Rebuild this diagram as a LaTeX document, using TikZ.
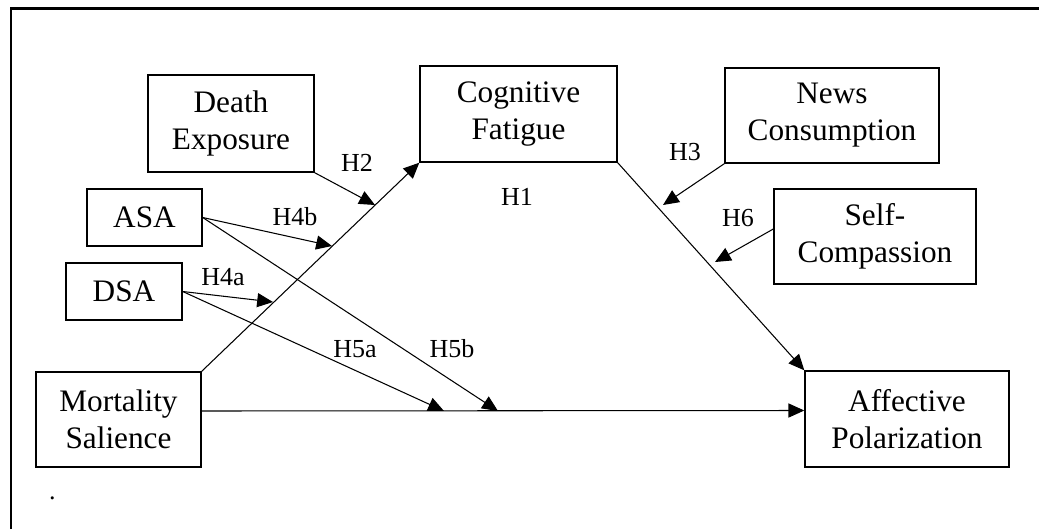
\documentclass[tikz,border=0pt]{standalone}
\usepackage{fontspec}
\setmainfont{Liberation Serif}
\usetikzlibrary{arrows.meta}
\usetikzlibrary{positioning}

\begin{document}
\begin{tikzpicture}[
    box/.style={rectangle, draw, line width=0.8pt, align=center, inner sep=0pt,
      font=\fontsize{17.8}{21}\selectfont},
    hyp/.style={inner sep=0pt, font=\fontsize{14.8}{17}\selectfont},
    link/.style={-{Triangle[length=9pt, width=8pt]}, line width=0.6pt},
    line/.style={line width=0.6pt},
  ]

  % Frame
  \useasboundingbox (0,0) rectangle (20.78,10.58);
  \draw[line width=1.7pt] (0.22,0) |- (20.78,10.41);

  % Nodes
  \node[box, minimum width=3.32cm, minimum height=1.94cm]
       (de)  at (4.62, 8.11)  {Death\\Exposure};
  \node[box, minimum width=3.94cm, minimum height=1.92cm]
       (cf)  at (10.37, 8.30) {Cognitive\\Fatigue};
  \node[box, minimum width=4.28cm, minimum height=1.90cm]
       (nc)  at (16.64, 8.27) {News\\Consumption};
  \node[box, minimum width=4.04cm, minimum height=1.90cm]
       (sc)  at (17.50, 5.85) {Self-\\Compassion};
  \node[box, minimum width=2.30cm, minimum height=1.14cm]
       (asa) at (2.89, 6.23)  {ASA};
  \node[box, minimum width=2.32cm, minimum height=1.14cm]
       (dsa) at (2.48, 4.75)  {DSA};
  \node[box, minimum width=3.30cm, minimum height=1.90cm]
       (ms)  at (2.37, 2.19)  {Mortality\\Salience};
  \node[box, minimum width=4.08cm, minimum height=1.92cm]
       (ap)  at (18.14, 2.20) {Affective\\Polarization};

  % Arrow ends on the paths
  \coordinate (deEnd)   at (7.50, 6.48);
  \coordinate (asaTop)  at (6.64, 5.66);
  \coordinate (dsaTop)  at (5.46, 4.54);
  \coordinate (asaLow)  at (9.96, 2.36);
  \coordinate (dsaLow)  at (8.88, 2.36);
  \coordinate (ncEnd)   at (13.26, 6.48);
  \coordinate (scEnd)   at (14.30, 5.34);

  % Main paths
  \draw[link] (ms.north east) -- (cf.south west);
  \draw[link] (cf.south east) -- (ap.north west);
  \draw[link] ([yshift=0.17cm]ms.east) -- ([yshift=0.17cm]ap.west);

  % Moderators
  \draw[link] (de.south east) -- (deEnd);
  \draw[link] (asa.east) -- (asaTop);
  \draw[link] (asa.east) -- (asaLow);
  \draw[link] (dsa.east) -- (dsaTop);
  \draw[link] (dsa.east) -- (dsaLow);
  \draw[link] (nc.south west) -- (ncEnd);
  \draw[link] ([yshift=0.15cm]sc.west) -- (scEnd);

  % Hypotheses
  \node[hyp] (h1)  at (10.34, 6.64) {H1};
  \node[hyp] (h2)  at (7.14, 7.32)  {H2};
  \node[hyp] (h3)  at (13.70, 7.54) {H3};
  \node[hyp] (h4b) at (5.90, 6.24)  {H4b};
  \node[hyp] (h4a) at (4.46, 5.04)  {H4a};
  \node[hyp] (h6)  at (14.76, 6.22) {H6};
  \node[hyp] (h5a) at (7.10, 3.60)  {H5a};
  \node[hyp] (h5b) at (9.04, 3.60)  {H5b};

  \node[hyp] (dot) at (1.05, 0.62)  {.};

\end{tikzpicture}
\end{document}
